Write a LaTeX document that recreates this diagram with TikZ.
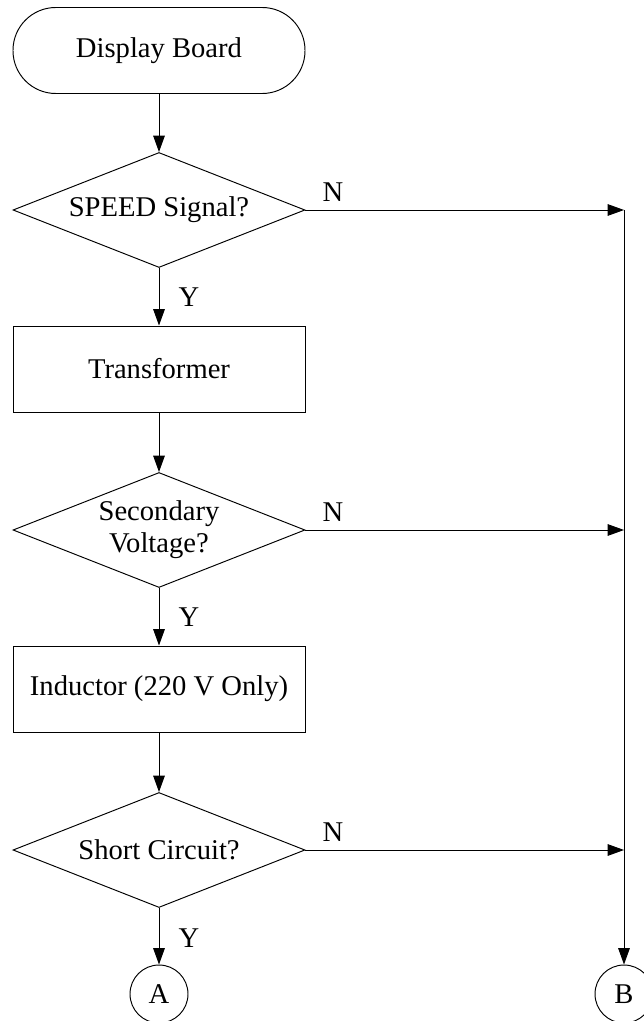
\documentclass[tikz,border=0pt]{standalone}
\usepackage{fontspec}
\setmainfont{Liberation Serif}
\usetikzlibrary{shapes.geometric,arrows.meta}
\begin{document}
\begin{tikzpicture}[x=0.5pt,y=-0.5pt,
  every node/.style={font=\fontsize{14.3}{16}\selectfont},
  base/.style={draw, line width=0.48pt, inner sep=0pt, align=center},
  terminal/.style={base, rectangle, rounded corners=21.4pt, minimum width=146pt, minimum height=43pt},
  process/.style={base, rectangle, minimum width=146pt, minimum height=43pt},
  decision/.style={base, diamond, aspect=2.54, minimum width=146pt, minimum height=57.5pt},
  connector/.style={base, circle, minimum size=29pt},
  flow/.style={line width=0.48pt, -{Triangle[length=8.2pt,width=5.8pt]}},
  lbl/.style={inner sep=0pt}]
\useasboundingbox (0,0) rectangle (643,1021);

% main column
\node[terminal] (start) at (159,50.5) {Display Board};
\node[decision] (d1) at (159,210) {SPEED Signal?};
\node[process]  (tr) at (159,369) {Transformer};
\node[decision] (d2) at (159,530) {Secondary\\Voltage?};
\node[process]  (ind) at (159,689) {Inductor (220 V Only)};
\node[decision] (d3) at (159,850) {Short Circuit?};
\node[connector] (A) at (159,994) {A};
\node[connector] (B) at (624,994) {B};

% junctions on the right-hand bus
\coordinate (r1) at (624,210);
\coordinate (r2) at (624,530);
\coordinate (r3) at (624,850);

% yes path
\draw[flow] (start.south) -- (d1.north);
\draw[flow] (d1.south) -- (tr.north);
\draw[flow] (tr.south) -- (d2.north);
\draw[flow] (d2.south) -- (ind.north);
\draw[flow] (ind.south) -- (d3.north);
\draw[flow] (d3.south) -- (A.north);
\node[lbl] (y1) at (189,297) {Y};
\node[lbl] (y2) at (189,617) {Y};
\node[lbl] (y3) at (189,938) {Y};

% no path
\draw[flow] (d1.east) -- (r1);
\draw[flow] (d2.east) -- (r2);
\draw[flow] (d3.east) -- (r3);
\draw[flow] (r1) -- (B.north);
\node[lbl] (n1) at (333,192) {N};
\node[lbl] (n2) at (333,512) {N};
\node[lbl] (n3) at (333,832) {N};
\end{tikzpicture}
\end{document}
